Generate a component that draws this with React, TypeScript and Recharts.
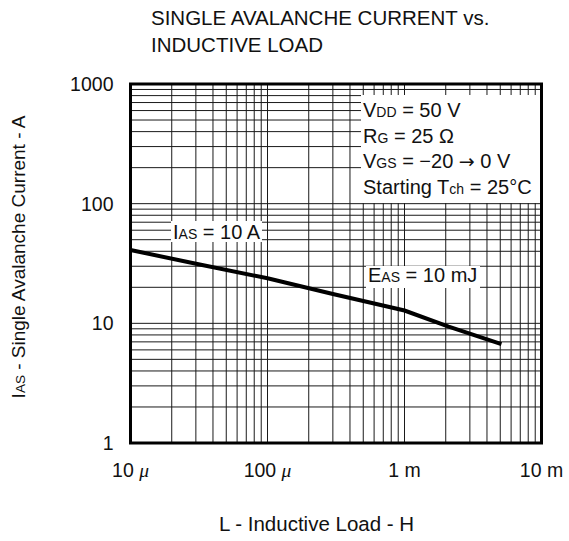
import React from 'react'
import { LineChart, Line, XAxis, YAxis, CartesianGrid } from 'recharts'

// inductive load (H) vs single avalanche current (A)
const L_VALUES = [1e-5, 3.2e-5, 1e-4, 3e-4, 1e-3, 2.1e-3, 5.1e-3]
const IAS_VALUES = [41, 31, 23.8, 17.6, 12.8, 9.4, 6.7]

const X_DECADES = [1e-5, 1e-4, 1e-3, 1e-2]
const X_TICK_LABELS = ['10 µ', '100 µ', '1 m', '10 m']
const Y_DECADES = [1, 10, 100, 1000]
const Y_TICK_LABELS = ['1', '10', '100', '1000']
const MINOR_STEPS = [1, 2, 3, 4, 5, 6, 7, 8, 9]

const CONDITIONS: [string, string, string][] = [
  ['V', 'DD', ' = 50 V'],
  ['R', 'G', ' = 25 Ω'],
  ['V', 'GS', ' = −20 → 0 V'],
  ['Starting T', 'ch', ' = 25°C'],
]

const data = L_VALUES.map((l, i) => ({ l, ias: IAS_VALUES[i] }))

const withMinors = (decades: number[]) =>
  decades.slice(0, -1).flatMap((d) => MINOR_STEPS.map((m) => m * d)).concat(decades[decades.length - 1])

const xTicks = withMinors(X_DECADES)
const yTicks = withMinors(Y_DECADES)

const W = 569
const H = 541
const PLOT = { left: 130.5, top: 84, right: 541.5, bottom: 443 }
const FONT = '"Liberation Sans", Arial, Helvetica, sans-serif'

const decadeIndex = (list: number[], v: number) => list.findIndex((d) => Math.abs(d - v) / d < 1e-6)

function XTick(props: any) {
  const { x, y, payload } = props
  const i = decadeIndex(X_DECADES, payload.value)
  if (i < 0) return <g />
  const label = X_TICK_LABELS[i]
  const isMicro = label.endsWith('µ')
  return (
    <text x={x} y={y + 34} textAnchor="middle" fontSize={19.5} fontFamily={FONT} fill="#111">
      {isMicro ? label.slice(0, -1) : label}
      {isMicro && (
        <tspan fontStyle="italic" fontFamily='"Liberation Serif", serif'>
          μ
        </tspan>
      )}
    </text>
  )
}

function YTick(props: any) {
  const { x, y, payload } = props
  const i = decadeIndex(Y_DECADES, payload.value)
  if (i < 0) return <g />
  return (
    <text x={x - 17} y={y + 7} textAnchor="end" fontSize={19.5} fontFamily={FONT} fill="#111">
      {Y_TICK_LABELS[i]}
    </text>
  )
}

// main text with a same-baseline smaller suffix, e.g. V + DD
function SubText({ x, y, parts, size = 20 }: { x: number; y: number; parts: [string, string, string]; size?: number }) {
  const [pre, arrowRest] = parts[2].split('→')
  return (
    <text x={x} y={y} fontSize={size} fontFamily={FONT} fill="#111">
      {parts[0]}
      <tspan fontSize={size * 0.7}>{parts[1]}</tspan>
      {arrowRest === undefined ? (
        parts[2]
      ) : (
        <>
          {pre}
          <tspan fontFamily='"DejaVu Sans", sans-serif' fontSize={size * 0.95}>→</tspan>
          {arrowRest}
        </>
      )}
    </text>
  )
}

export default function App() {
  return (
    <div style={{ position: 'absolute', left: 0, top: 0, width: W, height: H, background: '#fff' }}>
      <LineChart
        width={W}
        height={H}
        data={data}
        margin={{ top: PLOT.top, right: W - PLOT.right, bottom: H - PLOT.bottom - 30, left: PLOT.left - 60 }}
      >
        <CartesianGrid stroke="#1a1a1a" strokeWidth={1} />
        <XAxis
          dataKey="l"
          type="number"
          scale="log"
          domain={[X_DECADES[0], X_DECADES[X_DECADES.length - 1]]}
          ticks={xTicks}
          interval={0}
          allowDataOverflow
          height={30}
          tickSize={0}
          tickMargin={0}
          axisLine={false}
          tick={XTick}
        />
        <YAxis
          type="number"
          scale="log"
          domain={[Y_DECADES[0], Y_DECADES[Y_DECADES.length - 1]]}
          ticks={yTicks}
          interval={0}
          allowDataOverflow
          width={60}
          tickSize={0}
          tickMargin={0}
          axisLine={false}
          tick={YTick}
        />
        <Line
          dataKey="ias"
          stroke="#000"
          strokeWidth={4}
          dot={false}
          isAnimationActive={false}
        />
      </LineChart>

      <svg
        width={W}
        height={H}
        style={{ position: 'absolute', left: 0, top: 0, pointerEvents: 'none' }}
      >
        {/* titles */}
        <text x={151} y={25} fontSize={20.5} fontFamily={FONT} fill="#111">
          SINGLE AVALANCHE CURRENT vs.
        </text>
        <text x={151} y={52} fontSize={20.5} fontFamily={FONT} fill="#111">
          INDUCTIVE LOAD
        </text>
        <text x={316.5} y={531} textAnchor="middle" fontSize={20.5} fontFamily={FONT} fill="#111">
          L - Inductive Load - H
        </text>
        <text
          x={25}
          y={257}
          transform="rotate(-90, 25, 257)"
          textAnchor="middle"
          fontSize={19}
          fontFamily={FONT}
          fill="#111"
        >
          I<tspan fontSize={13.5}>AS</tspan> - Single Avalanche Current - A
        </text>

        {/* condition box */}
        <rect x={361} y={95} width={PLOT.right - 361} height={108} fill="#fff" />
        {CONDITIONS.map((c, i) => (
          <SubText key={i} x={363} y={117 + i * 25.5} parts={c} />
        ))}

        {/* curve labels */}
        <rect x={171} y={221} width={91} height={21} fill="#fff" />
        <SubText x={173} y={239} parts={['I', 'AS', ' = 10 A']} />
        <rect x={366} y={266} width={114} height={22} fill="#fff" />
        <SubText x={368} y={282} parts={['E', 'AS', ' = 10 mJ']} />

        {/* frame */}
        <rect
          x={PLOT.left}
          y={PLOT.top}
          width={PLOT.right - PLOT.left}
          height={PLOT.bottom - PLOT.top}
          fill="none"
          stroke="#000"
          strokeWidth={3}
        />
      </svg>
    </div>
  )
}
